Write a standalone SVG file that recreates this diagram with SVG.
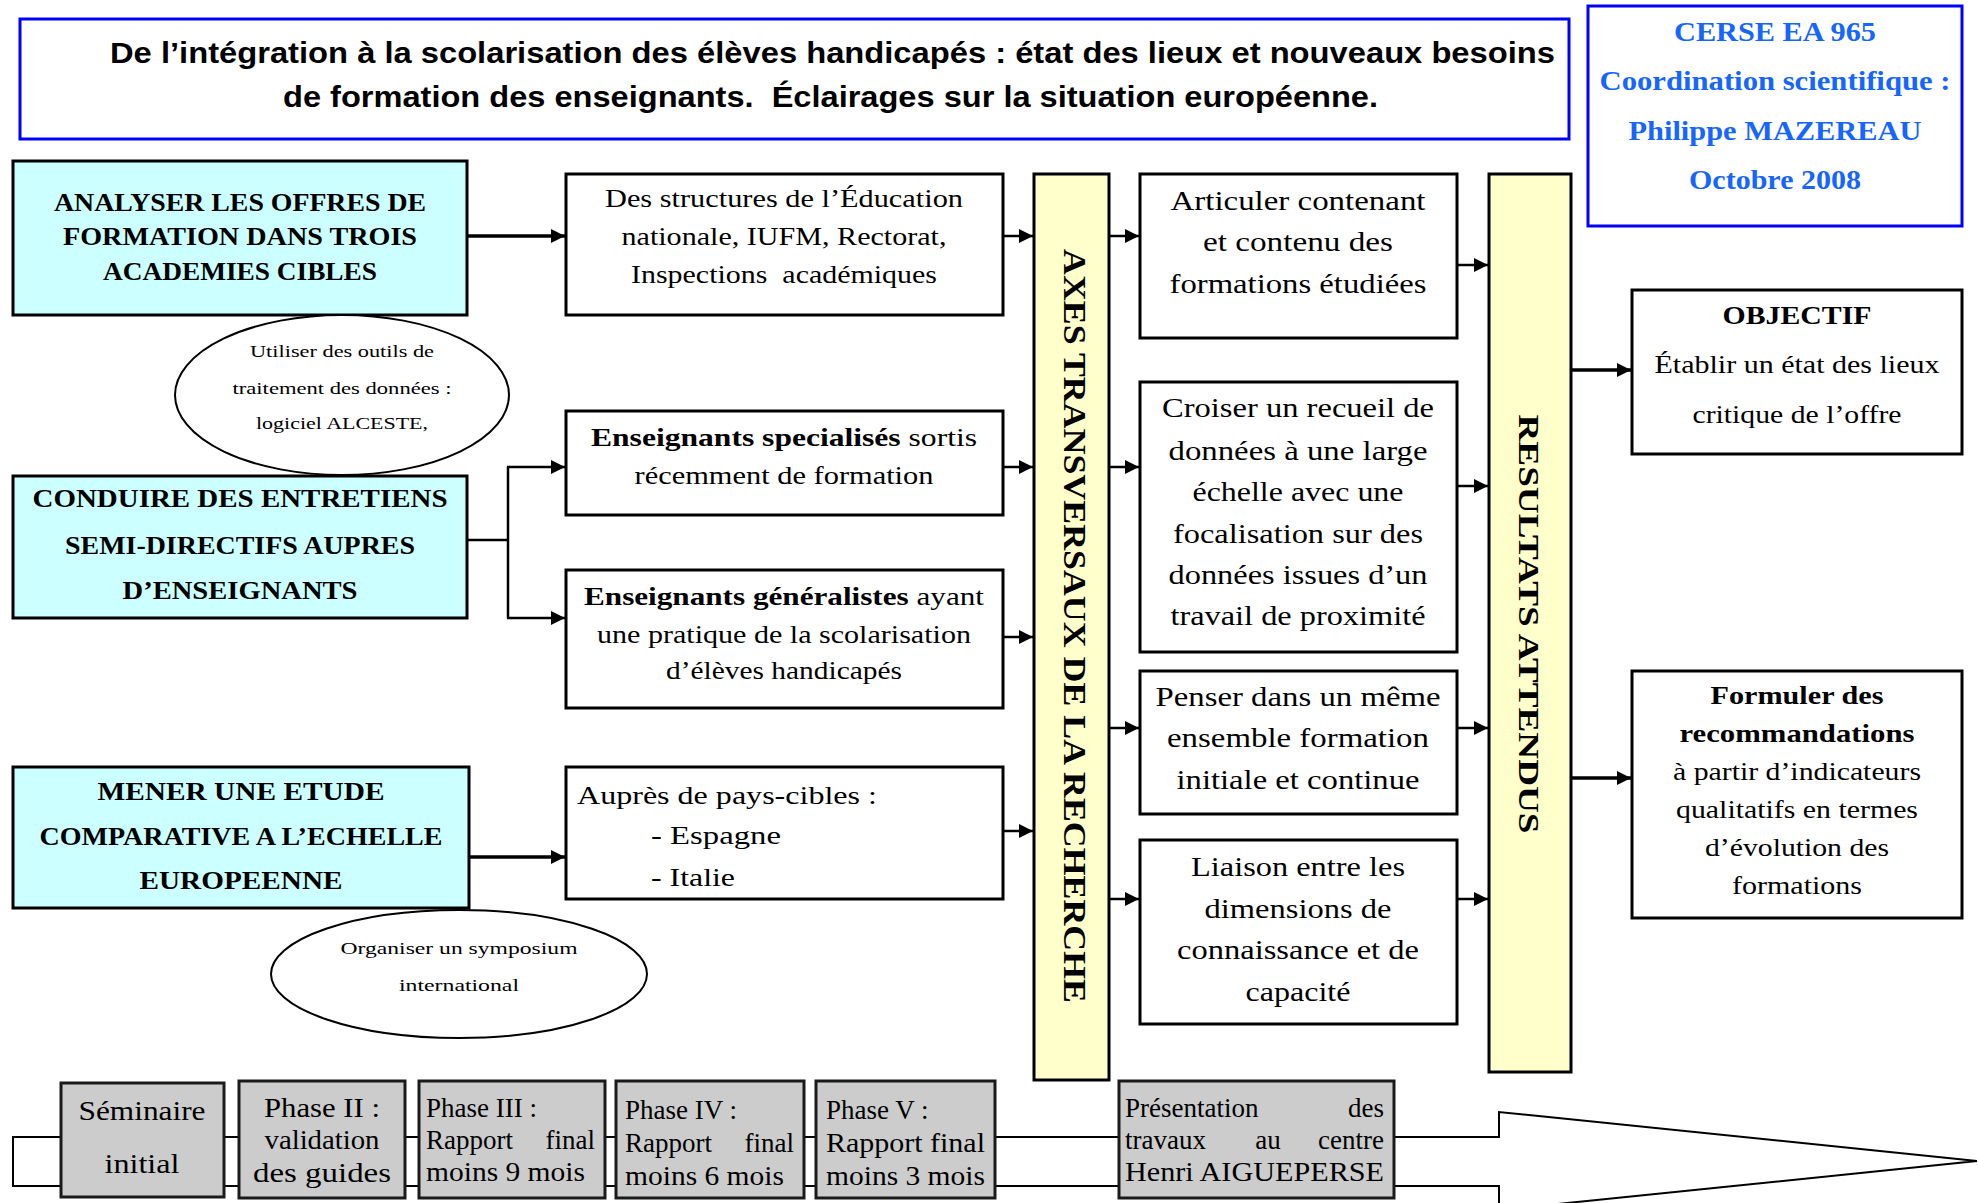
<svg xmlns="http://www.w3.org/2000/svg" width="1978" height="1203" viewBox="0 0 1978 1203">
<style>
.t{font-family:"Liberation Serif","Times New Roman",serif;fill:#000}
.b{font-weight:bold}
.m{text-anchor:middle}
.box{fill:#fff;stroke:#000;stroke-width:3}
.cyan{fill:#CCFFFF;stroke:#000;stroke-width:3}
.bar{fill:#FFFFCC;stroke:#000;stroke-width:3}
.gray{fill:#CCCCCC;stroke:#1a1a1a;stroke-width:3}
.blue{fill:#fff;stroke:#0000FF;stroke-width:3}
.ell{fill:#fff;stroke:#000;stroke-width:2}
.c{stroke:#000;stroke-width:2.5;fill:none;marker-end:url(#ah)}
.ct{stroke-width:3.5}
.ln{stroke:#000;stroke-width:2.5;fill:none}
.title{font-family:"Liberation Sans",Arial,sans-serif;font-weight:bold;font-size:29px}
.cerse{font-family:"Liberation Serif","Times New Roman",serif;font-weight:bold;font-size:28px;fill:#1765FF;text-anchor:middle}
.s26{font-size:26px}
.s28{font-size:28px}
.s17{font-size:17px}
.p{font-size:27px}
</style>
<defs>
<marker id="ah" markerUnits="userSpaceOnUse" markerWidth="14" markerHeight="14" refX="14" refY="7" orient="auto">
<path d="M0,0 L14,7 L0,14 z" fill="#000"/>
</marker>
</defs>
<rect width="1978" height="1203" fill="#fff"/>

<g id="timeline">
<path d="M13,1137 L1499,1137 L1499,1112 L1977,1161 L1499,1210 L1499,1186 L13,1186 Z" fill="#fff" stroke="#000" stroke-width="2"/>
</g>

<g id="title">
<rect class="blue" x="20" y="19" width="1549" height="120"/>
<text class="title" x="110" y="63" textLength="1445" lengthAdjust="spacingAndGlyphs">De l’intégration à la scolarisation des élèves handicapés : état des lieux et nouveaux besoins</text>
<text class="title" x="283" y="107" textLength="1095" lengthAdjust="spacingAndGlyphs">de formation des enseignants.&#160; Éclairages sur la situation européenne.</text>
</g>

<g id="cerse">
<rect class="blue" x="1588" y="6" width="374" height="220"/>
<text class="cerse" x="1775" y="41" textLength="202" lengthAdjust="spacingAndGlyphs">CERSE EA 965</text>
<text class="cerse" x="1775" y="90" textLength="351" lengthAdjust="spacingAndGlyphs">Coordination scientifique :</text>
<text class="cerse" x="1775" y="140" textLength="293" lengthAdjust="spacingAndGlyphs">Philippe MAZEREAU</text>
<text class="cerse" x="1775" y="189" textLength="172" lengthAdjust="spacingAndGlyphs">Octobre 2008</text>
</g>

<g id="analyser">
<rect class="cyan" x="13" y="161" width="454" height="154"/>
<text class="t b m s26" x="240" y="211" textLength="372" lengthAdjust="spacingAndGlyphs">ANALYSER LES OFFRES DE</text>
<text class="t b m s26" x="240" y="245" textLength="354" lengthAdjust="spacingAndGlyphs">FORMATION DANS TROIS</text>
<text class="t b m s26" x="240" y="280" textLength="274" lengthAdjust="spacingAndGlyphs">ACADEMIES CIBLES</text>
</g>

<g id="ellipse-outils">
<ellipse class="ell" cx="342" cy="395" rx="167" ry="80"/>
<text class="t m s17" x="342" y="357" textLength="184" lengthAdjust="spacingAndGlyphs">Utiliser des outils de</text>
<text class="t m s17" x="342" y="394" textLength="219" lengthAdjust="spacingAndGlyphs">traitement des données :</text>
<text class="t m s17" x="342" y="429" textLength="172" lengthAdjust="spacingAndGlyphs">logiciel ALCESTE,</text>
</g>

<g id="conduire">
<rect class="cyan" x="13" y="476" width="454" height="142"/>
<text class="t b m s26" x="240" y="507" textLength="415" lengthAdjust="spacingAndGlyphs">CONDUIRE DES ENTRETIENS</text>
<text class="t b m s26" x="240" y="554" textLength="350" lengthAdjust="spacingAndGlyphs">SEMI-DIRECTIFS AUPRES</text>
<text class="t b m s26" x="240" y="599" textLength="235" lengthAdjust="spacingAndGlyphs">D’ENSEIGNANTS</text>
</g>

<g id="mener">
<rect class="cyan" x="13" y="767" width="456" height="141"/>
<text class="t b m s26" x="241" y="800" textLength="287" lengthAdjust="spacingAndGlyphs">MENER UNE ETUDE</text>
<text class="t b m s26" x="241" y="845" textLength="403" lengthAdjust="spacingAndGlyphs">COMPARATIVE A L’ECHELLE</text>
<text class="t b m s26" x="241" y="889" textLength="203" lengthAdjust="spacingAndGlyphs">EUROPEENNE</text>
</g>

<g id="ellipse-symposium">
<ellipse class="ell" cx="459" cy="974" rx="188" ry="64"/>
<text class="t m s17" x="459" y="954" textLength="237" lengthAdjust="spacingAndGlyphs">Organiser un symposium</text>
<text class="t m s17" x="459" y="991" textLength="120" lengthAdjust="spacingAndGlyphs">international</text>
</g>

<g id="structures">
<rect class="box" x="566" y="174" width="437" height="141"/>
<text class="t m s26" x="784" y="207" textLength="358" lengthAdjust="spacingAndGlyphs">Des structures de l’Éducation</text>
<text class="t m s26" x="784" y="245" textLength="325" lengthAdjust="spacingAndGlyphs">nationale, IUFM, Rectorat,</text>
<text class="t m s26" x="784" y="283" textLength="306" lengthAdjust="spacingAndGlyphs">Inspections&#160; académiques</text>
</g>

<g id="specialises">
<rect class="box" x="566" y="411" width="437" height="104"/>
<text class="t m s26" x="784" y="446" textLength="386" lengthAdjust="spacingAndGlyphs"><tspan class="b">Enseignants specialisés</tspan> sortis</text>
<text class="t m s26" x="784" y="484" textLength="299" lengthAdjust="spacingAndGlyphs">récemment de formation</text>
</g>

<g id="generalistes">
<rect class="box" x="566" y="570" width="437" height="138"/>
<text class="t m s26" x="784" y="605" textLength="400" lengthAdjust="spacingAndGlyphs"><tspan class="b">Enseignants généralistes</tspan> ayant</text>
<text class="t m s26" x="784" y="643" textLength="374" lengthAdjust="spacingAndGlyphs">une pratique de la scolarisation</text>
<text class="t m s26" x="784" y="679" textLength="236" lengthAdjust="spacingAndGlyphs">d’élèves handicapés</text>
</g>

<g id="aupres">
<rect class="box" x="566" y="767" width="437" height="132"/>
<text class="t s26" x="577" y="804" textLength="300" lengthAdjust="spacingAndGlyphs">Auprès de pays-cibles :</text>
<text class="t s26" x="651" y="844" textLength="130" lengthAdjust="spacingAndGlyphs">- Espagne</text>
<text class="t s26" x="651" y="886" textLength="84" lengthAdjust="spacingAndGlyphs">- Italie</text>
</g>

<g id="axes">
<rect class="bar" x="1034" y="174" width="75" height="906"/>
<text class="t b m" font-size="32" transform="translate(1064,626) rotate(90)" x="0" y="0" textLength="754" lengthAdjust="spacingAndGlyphs">AXES TRANSVERSAUX DE LA RECHERCHE</text>
</g>

<g id="articuler">
<rect class="box" x="1140" y="174" width="317" height="164"/>
<text class="t m s28" x="1298" y="210" textLength="255" lengthAdjust="spacingAndGlyphs">Articuler contenant</text>
<text class="t m s28" x="1298" y="251" textLength="190" lengthAdjust="spacingAndGlyphs">et contenu des</text>
<text class="t m s28" x="1298" y="293" textLength="257" lengthAdjust="spacingAndGlyphs">formations étudiées</text>
</g>

<g id="croiser">
<rect class="box" x="1140" y="382" width="317" height="270"/>
<text class="t m s28" x="1298" y="417" textLength="272" lengthAdjust="spacingAndGlyphs">Croiser un recueil de</text>
<text class="t m s28" x="1298" y="460" textLength="259" lengthAdjust="spacingAndGlyphs">données à une large</text>
<text class="t m s28" x="1298" y="501" textLength="211" lengthAdjust="spacingAndGlyphs">échelle avec une</text>
<text class="t m s28" x="1298" y="543" textLength="250" lengthAdjust="spacingAndGlyphs">focalisation sur des</text>
<text class="t m s28" x="1298" y="584" textLength="259" lengthAdjust="spacingAndGlyphs">données issues d’un</text>
<text class="t m s28" x="1298" y="625" textLength="255" lengthAdjust="spacingAndGlyphs">travail de proximité</text>
</g>

<g id="penser">
<rect class="box" x="1140" y="671" width="317" height="143"/>
<text class="t m s28" x="1298" y="706" textLength="285" lengthAdjust="spacingAndGlyphs">Penser dans un même</text>
<text class="t m s28" x="1298" y="747" textLength="262" lengthAdjust="spacingAndGlyphs">ensemble formation</text>
<text class="t m s28" x="1298" y="789" textLength="243" lengthAdjust="spacingAndGlyphs">initiale et continue</text>
</g>

<g id="liaison">
<rect class="box" x="1140" y="840" width="317" height="184"/>
<text class="t m s28" x="1298" y="876" textLength="214" lengthAdjust="spacingAndGlyphs">Liaison entre les</text>
<text class="t m s28" x="1298" y="918" textLength="187" lengthAdjust="spacingAndGlyphs">dimensions de</text>
<text class="t m s28" x="1298" y="959" textLength="242" lengthAdjust="spacingAndGlyphs">connaissance et de</text>
<text class="t m s28" x="1298" y="1001" textLength="105" lengthAdjust="spacingAndGlyphs">capacité</text>
</g>

<g id="resultats">
<rect class="bar" x="1489" y="174" width="82" height="898"/>
<text class="t b m" font-size="30" transform="translate(1519,624) rotate(90)" x="0" y="0" textLength="419" lengthAdjust="spacingAndGlyphs">RESULTATS ATTENDUS</text>
</g>

<g id="objectif">
<rect class="box" x="1632" y="290" width="330" height="164"/>
<text class="t b m s26" x="1797" y="324" textLength="149" lengthAdjust="spacingAndGlyphs">OBJECTIF</text>
<text class="t m s26" x="1797" y="373" textLength="285" lengthAdjust="spacingAndGlyphs">Établir un état des lieux</text>
<text class="t m s26" x="1797" y="423" textLength="209" lengthAdjust="spacingAndGlyphs">critique de l’offre</text>
</g>

<g id="formuler">
<rect class="box" x="1632" y="671" width="330" height="247"/>
<text class="t b m s26" x="1797" y="704" textLength="173" lengthAdjust="spacingAndGlyphs">Formuler des</text>
<text class="t b m s26" x="1797" y="742" textLength="235" lengthAdjust="spacingAndGlyphs">recommandations</text>
<text class="t m s26" x="1797" y="780" textLength="248" lengthAdjust="spacingAndGlyphs">à partir d’indicateurs</text>
<text class="t m s26" x="1797" y="818" textLength="242" lengthAdjust="spacingAndGlyphs">qualitatifs en termes</text>
<text class="t m s26" x="1797" y="856" textLength="184" lengthAdjust="spacingAndGlyphs">d’évolution des</text>
<text class="t m s26" x="1797" y="894" textLength="130" lengthAdjust="spacingAndGlyphs">formations</text>
</g>

<g id="seminaire">
<rect class="gray" x="61" y="1083" width="163" height="114"/>
<text class="t m p" x="142" y="1120" textLength="127" lengthAdjust="spacingAndGlyphs">Séminaire</text>
<text class="t m p" x="142" y="1173" textLength="75" lengthAdjust="spacingAndGlyphs">initial</text>
</g>

<g id="phase2">
<rect class="gray" x="239" y="1081" width="166" height="117"/>
<text class="t m p" x="322" y="1117" textLength="116" lengthAdjust="spacingAndGlyphs">Phase II :</text>
<text class="t m p" x="322" y="1149" textLength="115" lengthAdjust="spacingAndGlyphs">validation</text>
<text class="t m p" x="322" y="1182" textLength="138" lengthAdjust="spacingAndGlyphs">des guides</text>
</g>

<g id="phase3">
<rect class="gray" x="419" y="1081" width="186" height="117"/>
<text class="t p" x="426" y="1117">Phase III :</text>
<text class="t p" x="426" y="1149">Rapport</text>
<text class="t p" x="595" y="1149" text-anchor="end">final</text>
<text class="t p" x="426" y="1181" textLength="159" lengthAdjust="spacingAndGlyphs">moins 9 mois</text>
</g>

<g id="phase4">
<rect class="gray" x="616" y="1081" width="188" height="117"/>
<text class="t p" x="625" y="1119">Phase IV :</text>
<text class="t p" x="625" y="1152">Rapport</text>
<text class="t p" x="794" y="1152" text-anchor="end">final</text>
<text class="t p" x="625" y="1185" textLength="159" lengthAdjust="spacingAndGlyphs">moins 6 mois</text>
</g>

<g id="phase5">
<rect class="gray" x="816" y="1081" width="179" height="117"/>
<text class="t p" x="826" y="1119">Phase V :</text>
<text class="t p" x="826" y="1152" textLength="159" lengthAdjust="spacingAndGlyphs">Rapport final</text>
<text class="t p" x="826" y="1185" textLength="159" lengthAdjust="spacingAndGlyphs">moins 3 mois</text>
</g>

<g id="presentation">
<rect class="gray" x="1119" y="1081" width="275" height="117"/>
<text class="t p" x="1125" y="1117">Présentation</text>
<text class="t p" x="1384" y="1117" text-anchor="end">des</text>
<text class="t p" x="1125" y="1149">travaux</text>
<text class="t m p" x="1268" y="1149">au</text>
<text class="t p" x="1384" y="1149" text-anchor="end">centre</text>
<text class="t p" x="1125" y="1181" textLength="259" lengthAdjust="spacingAndGlyphs">Henri AIGUEPERSE</text>
</g>

<g id="connectors">
<path class="c ct" d="M467,236 H565"/>
<path class="ln" d="M467,540 H508 M508,467 V618"/>
<path class="c" d="M507,467 H565"/>
<path class="c" d="M507,618 H565"/>
<path class="c ct" d="M469,857 H565"/>
<path class="c" d="M1003,236 H1033"/>
<path class="c" d="M1003,467 H1033"/>
<path class="c" d="M1003,637 H1033"/>
<path class="c" d="M1003,831 H1033"/>
<path class="c" d="M1109,236 H1139"/>
<path class="c" d="M1109,467 H1139"/>
<path class="c" d="M1109,728 H1139"/>
<path class="c" d="M1109,899 H1139"/>
<path class="c" d="M1457,265 H1488"/>
<path class="c" d="M1457,486 H1488"/>
<path class="c" d="M1457,728 H1488"/>
<path class="c" d="M1457,899 H1488"/>
<path class="c ct" d="M1571,370 H1631"/>
<path class="c ct" d="M1571,778 H1631"/>
</g>
</svg>
